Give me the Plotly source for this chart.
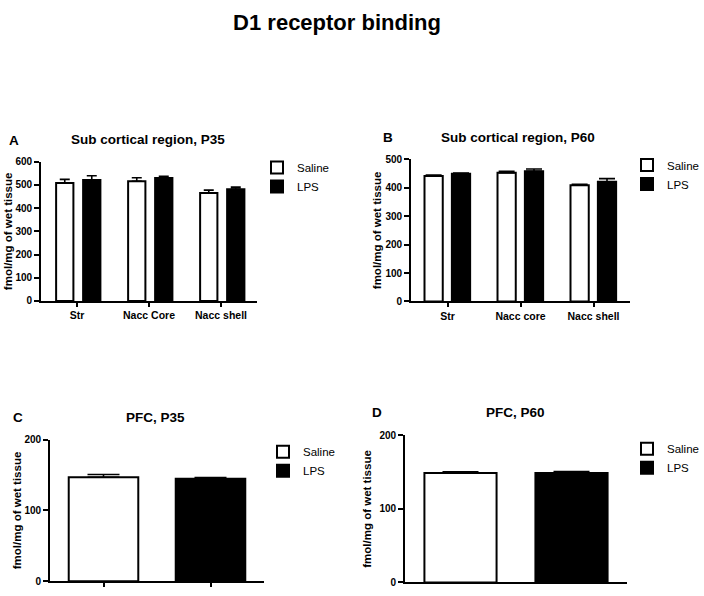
import plotly.graph_objects as go

W, H = 704, 596

# ---------------- data ----------------
regions_sub_p35 = ["Str", "Nacc Core", "Nacc shell"]
regions_sub_p60 = ["Str", "Nacc core", "Nacc shell"]
groups_pfc = ["Saline", "LPS"]

a_saline = [509, 516, 465]
a_saline_err = [15, 15, 13]
a_lps = [522, 530, 482]
a_lps_err = [18, 8, 9]

b_saline = [441, 453, 409]
b_saline_err = [4, 5, 3]
b_lps = [449, 458, 421]
b_lps_err = [3, 8, 11]

c_values = [147, 145]
c_err = [4, 1.5]

d_values = [149, 149]
d_err = [1.5, 2]

ytick_a = [0, 100, 200, 300, 400, 500, 600]
ytick_b = [0, 100, 200, 300, 400, 500]
ytick_pfc = [0, 100, 200]

FONT = "Arial, Liberation Sans, sans-serif"
YTITLE = "fmol/mg of wet tissue"


def px_x(p):
    return p / W


def px_y(p):
    return 1 - p / H


fig = go.Figure()

saline_style = dict(marker=dict(color="white", line=dict(color="black", width=2)))
lps_style = dict(marker=dict(color="black", line=dict(color="black", width=2)))


def err(arr, w):
    return dict(type="data", array=arr, arrayminus=[0] * len(arr), symmetric=False,
                color="black", thickness=1.6, width=w)


# Panel A
fig.add_trace(go.Bar(x=regions_sub_p35, y=a_saline, name="Saline", error_y=err(a_saline_err, 5),
                     offset=-0.29, width=0.24, xaxis="x", yaxis="y", legend="legend", **saline_style))
fig.add_trace(go.Bar(x=regions_sub_p35, y=a_lps, name="LPS", error_y=err(a_lps_err, 5),
                     offset=0.085, width=0.24, xaxis="x", yaxis="y", legend="legend", **lps_style))
# Panel B
fig.add_trace(go.Bar(x=regions_sub_p60, y=b_saline, name="Saline", error_y=err(b_saline_err, 8),
                     offset=-0.315, width=0.25, xaxis="x2", yaxis="y2", legend="legend2", **saline_style))
fig.add_trace(go.Bar(x=regions_sub_p60, y=b_lps, name="LPS", error_y=err(b_lps_err, 8),
                     offset=0.06, width=0.25, xaxis="x2", yaxis="y2", legend="legend2", **lps_style))
# Panel C
fig.add_trace(go.Bar(x=[groups_pfc[0]], y=[c_values[0]], name="Saline", error_y=err([c_err[0]], 16),
                     width=0.65, xaxis="x3", yaxis="y3", legend="legend3", **saline_style))
fig.add_trace(go.Bar(x=[groups_pfc[1]], y=[c_values[1]], name="LPS", error_y=err([c_err[1]], 16),
                     width=0.65, xaxis="x3", yaxis="y3", legend="legend3", **lps_style))
# Panel D
fig.add_trace(go.Bar(x=[groups_pfc[0]], y=[d_values[0]], name="Saline", error_y=err([d_err[0]], 18),
                     width=0.65, xaxis="x4", yaxis="y4", legend="legend4", **saline_style))
fig.add_trace(go.Bar(x=[groups_pfc[1]], y=[d_values[1]], name="LPS", error_y=err([d_err[1]], 18),
                     width=0.65, xaxis="x4", yaxis="y4", legend="legend4", **lps_style))

xtickfont = dict(family=FONT, size=10.5, color="black", weight="bold")
ytickfont = dict(family=FONT, size=10, color="black", weight="bold")
titlefont = dict(family=FONT, size=11.5, color="black", weight="bold")


def xax(dom, anchor, ticks="outside", labels=True):
    return dict(domain=[px_x(dom[0]), px_x(dom[1])], anchor=anchor, type="category",
                range=[-0.5, 1.5 if not labels else 2.5], showline=True, linecolor="black",
                linewidth=1.8, ticks=ticks, ticklen=4, tickwidth=1.5, tickcolor="black",
                showticklabels=labels, tickfont=xtickfont, showgrid=False, zeroline=False,
                fixedrange=True)


def yax(dom, anchor, top, vals, standoff):
    return dict(domain=[px_y(dom[1]), px_y(dom[0])], anchor=anchor, range=[0, top],
                tickvals=vals, showline=True, linecolor="black", linewidth=1.8,
                ticks="outside", ticklen=5, tickwidth=1.5, tickcolor="black",
                tickfont=ytickfont, showgrid=False, zeroline=False,
                title=dict(text=YTITLE, font=titlefont, standoff=standoff), fixedrange=True)


def legend(pos, top, anchor="left"):
    return dict(x=px_x(pos), y=px_y(top), xanchor=anchor, yanchor="top",
                font=dict(family=FONT, size=11.5, color="black"), bgcolor="rgba(0,0,0,0)",
                borderwidth=0, itemclick=False, itemdoubleclick=False)


fig.update_layout(
    width=W, height=H, margin=dict(l=0, r=0, t=0, b=0),
    paper_bgcolor="white", plot_bgcolor="white",
    barmode="overlay", showlegend=True,
    title=dict(text="D1 receptor binding", x=px_x(337), xanchor="center",
               y=px_y(22), yanchor="middle",
               font=dict(family=FONT, size=22, color="black", weight="bold")),
    xaxis=xax((41, 257), "y"),
    yaxis=yax((159, 301), "x", 600, ytick_a, 0),
    xaxis2=xax((411, 630), "y2"),
    yaxis2=yax((156.5, 301.5), "x2", 500, ytick_b, 1),
    xaxis3=xax((50, 264), "y3", ticks="outside", labels=False),
    yaxis3=yax((442.7, 587), "x3", 200, ytick_pfc, 0),
    xaxis4=xax((405, 627), "y4", ticks="", labels=False),
    yaxis4=yax((438.3, 588.3), "x4", 200, ytick_pfc, 5),
    legend=legend(257, 150),
    legend2=legend(704, 147.5, anchor="right"),
    legend3=legend(263, 440),
    legend4=legend(704, 437, anchor="right"),
)

annotations = [
    ("A", 14, 137, 13.5), ("Sub cortical region, P35", 148, 136, 13.5),
    ("B", 388, 134, 13.5), ("Sub cortical region, P60", 518, 134, 13.5),
    ("C", 18, 420, 13.5), ("PFC, P35", 155, 420, 13.5),
    ("D", 377, 415, 13.5), ("PFC, P60", 515, 415, 13.5),
]
for text, cx, cy, size in annotations:
    fig.add_annotation(text=text, x=px_x(cx), y=px_y(cy), xref="paper", yref="paper",
                       xanchor="center", yanchor="middle", showarrow=False,
                       font=dict(family=FONT, size=size, color="black", weight="bold"))

fig.write_html("out.html", config={"displayModeBar": False},
               post_script="document.body.style.margin='0';")
